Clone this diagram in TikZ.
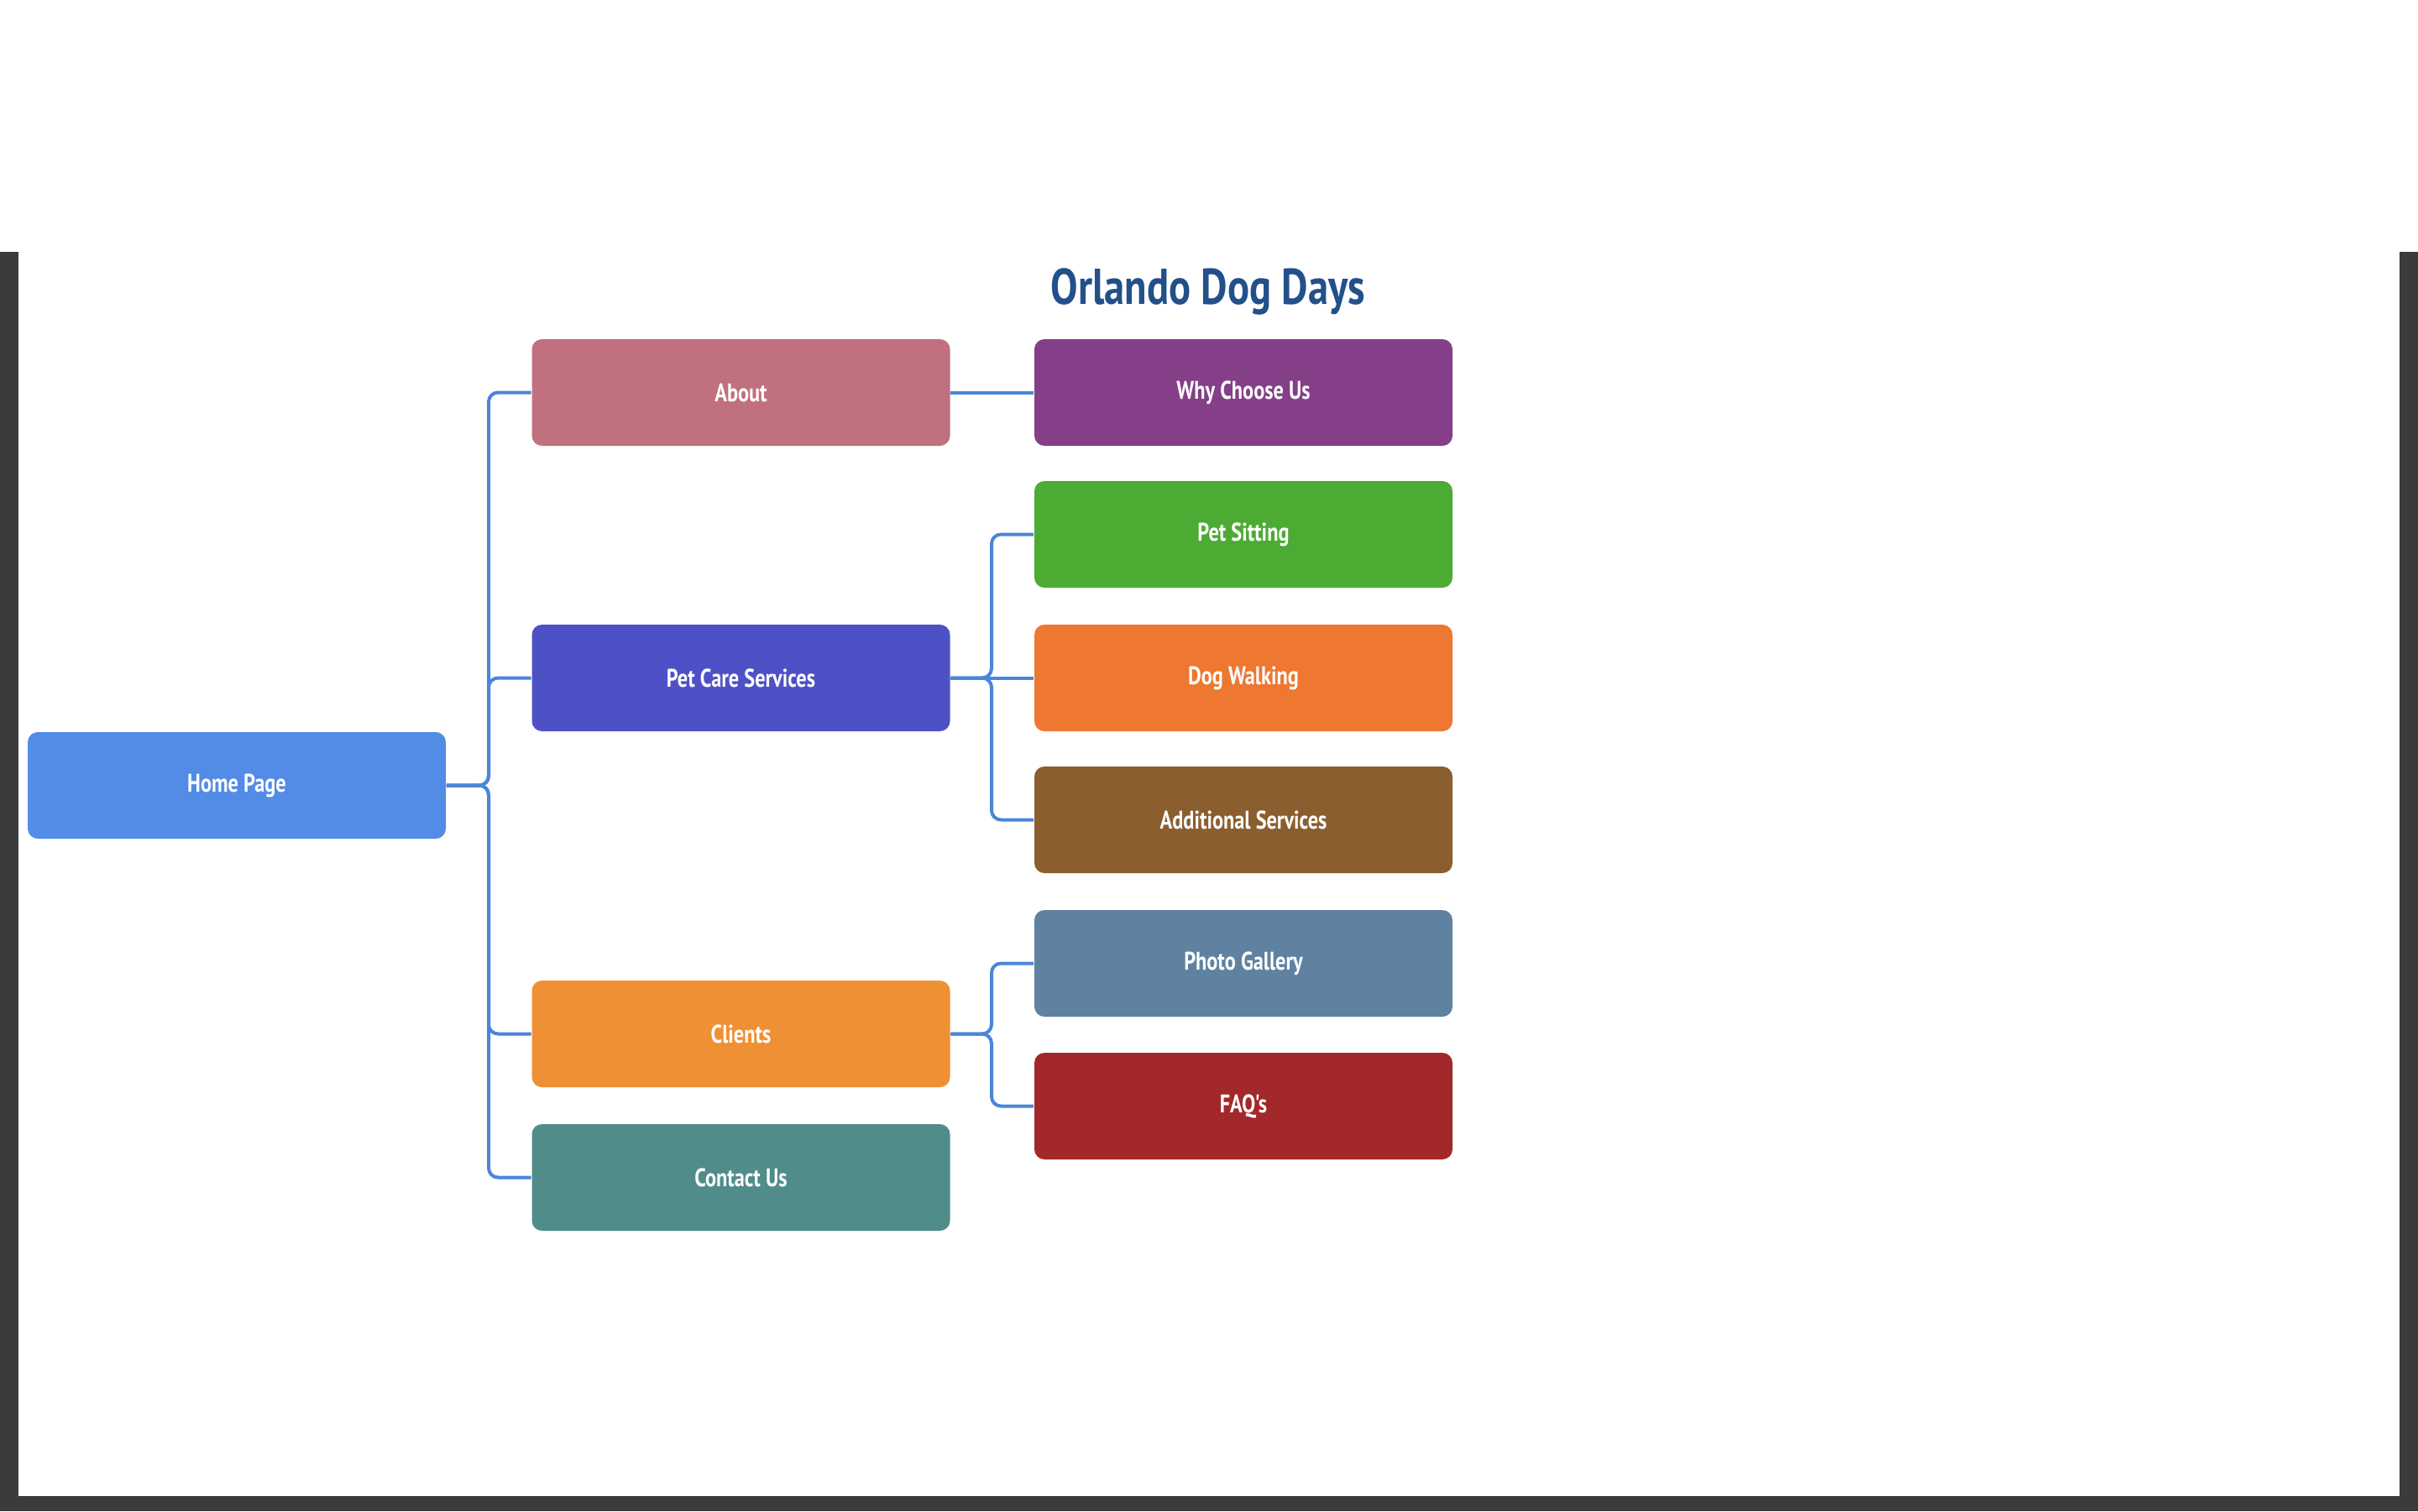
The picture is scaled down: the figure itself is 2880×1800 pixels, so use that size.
\documentclass[tikz,border=0pt]{standalone}
\usepackage{fontspec}
\setmainfont{PT Sans}
\newfontfamily\lblfont[FakeStretch=0.8]{PT Sans}
\newfontfamily\ttlfont[FakeStretch=0.81]{PT Sans}
\definecolor{framegray}{HTML}{3B3B3B}
\definecolor{linkblue}{HTML}{4A86D8}
\definecolor{ctitle}{HTML}{23508A}
\definecolor{chome}{HTML}{538CE7}
\definecolor{cabout}{HTML}{C0707E}
\definecolor{cwhy}{HTML}{843F88}
\definecolor{cpcs}{HTML}{4E51C6}
\definecolor{cps}{HTML}{4CAB33}
\definecolor{cdw}{HTML}{EE7731}
\definecolor{cas}{HTML}{8B5E2F}
\definecolor{cpg}{HTML}{5F82A0}
\definecolor{ccli}{HTML}{F09035}
\definecolor{cfaq}{HTML}{A32829}
\definecolor{ccon}{HTML}{508C8A}
\begin{document}
\begin{tikzpicture}[x=0.25pt,y=-0.25pt,
  box/.style={rounded corners=3pt, minimum width=124.5pt, minimum height=31.75pt,
    inner sep=0pt, text=white, font=\lblfont\bfseries\fontsize{7.6}{9}\selectfont},
  link/.style={draw=linkblue, line width=1pt, rounded corners=2.8pt}]
\useasboundingbox (0,0) rectangle (2880,1800);
\fill[white] (0,0) rectangle (2880,1800);
\fill[framegray] (0,300) rectangle (22,1800);
\fill[framegray] (2858,300) rectangle (2880,1800);
\fill[framegray] (0,1782) rectangle (2880,1800);

\node[anchor=base, text=ctitle, font=\ttlfont\bfseries\fontsize{15}{18}\selectfont] (title) at (1439,362) {Orlando Dog Days};

\node[box, fill=chome] (home) at (282,935.5) {Home Page};
\node[box, fill=cabout] (about) at (882.5,467.5) {About};
\node[box, fill=cpcs] (pcs) at (882.5,807.5) {Pet Care Services};
\node[box, fill=ccli] (cli) at (882.5,1231.5) {Clients};
\node[box, fill=ccon] (con) at (882.5,1402.5) {Contact Us};
\node[box, fill=cwhy] (why) at (1481,467.5) {Why Choose Us};
\node[box, fill=cps] (ps) at (1481,636.5) {Pet Sitting};
\node[box, fill=cdw] (dw) at (1481,807.5) {Dog Walking};
\node[box, fill=cas] (as) at (1481,976.5) {Additional Services};
\node[box, fill=cpg] (pg) at (1481,1147.5) {Photo Gallery};
\node[box, fill=cfaq] (faq) at (1481,1317.5) {FAQ's};

\coordinate (busA) at (582,0);
\coordinate (busB) at (1181,0);

\draw[link] (home.east) -- (home.east -| busA) |- (about.west);
\draw[link] (home.east) -- (home.east -| busA) |- (pcs.west);
\draw[link] (home.east) -- (home.east -| busA) |- (cli.west);
\draw[link] (home.east) -- (home.east -| busA) |- (con.west);
\draw[link] (about.east) -- (why.west);
\draw[link] (pcs.east) -- (pcs.east -| busB) |- (ps.west);
\draw[link] (pcs.east) -- (dw.west);
\draw[link] (pcs.east) -- (pcs.east -| busB) |- (as.west);
\draw[link] (cli.east) -- (cli.east -| busB) |- (pg.west);
\draw[link] (cli.east) -- (cli.east -| busB) |- (faq.west);
\end{tikzpicture}
\end{document}
